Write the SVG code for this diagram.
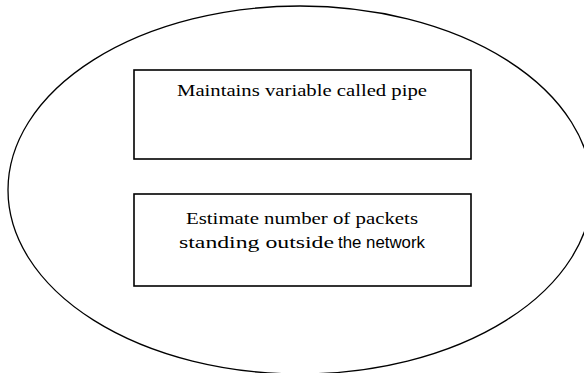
<svg xmlns="http://www.w3.org/2000/svg" width="584" height="373" viewBox="0 0 584 373">
<style>
.shape{fill:none;stroke:#000;stroke-width:1.3}
.box{fill:#fff;stroke:#000;stroke-width:1.6}
.serif{font-family:"Liberation Serif","Times New Roman",serif;font-size:17px;fill:#000}
.sans{font-family:"Liberation Sans",Arial,sans-serif;font-size:17px;fill:#000}
</style>
<g id="boundary">
<ellipse class="shape" cx="300" cy="190" rx="292" ry="184"/>
</g>
<g id="node-pipe">
<rect class="box" x="134" y="70" width="337" height="89"/>
<text class="serif" x="177" y="96" textLength="250" lengthAdjust="spacingAndGlyphs">Maintains variable called pipe</text>
</g>
<g id="node-estimate">
<rect class="box" x="134" y="194" width="337" height="92"/>
<text class="serif" x="186" y="224" textLength="232" lengthAdjust="spacingAndGlyphs">Estimate number of packets</text>
<text x="179" y="248"><tspan class="serif" textLength="155" lengthAdjust="spacingAndGlyphs">standing outside</tspan><tspan class="sans" x="338" textLength="87" lengthAdjust="spacingAndGlyphs">the network</tspan></text>
</g>
<g id="connectors"></g>
</svg>
